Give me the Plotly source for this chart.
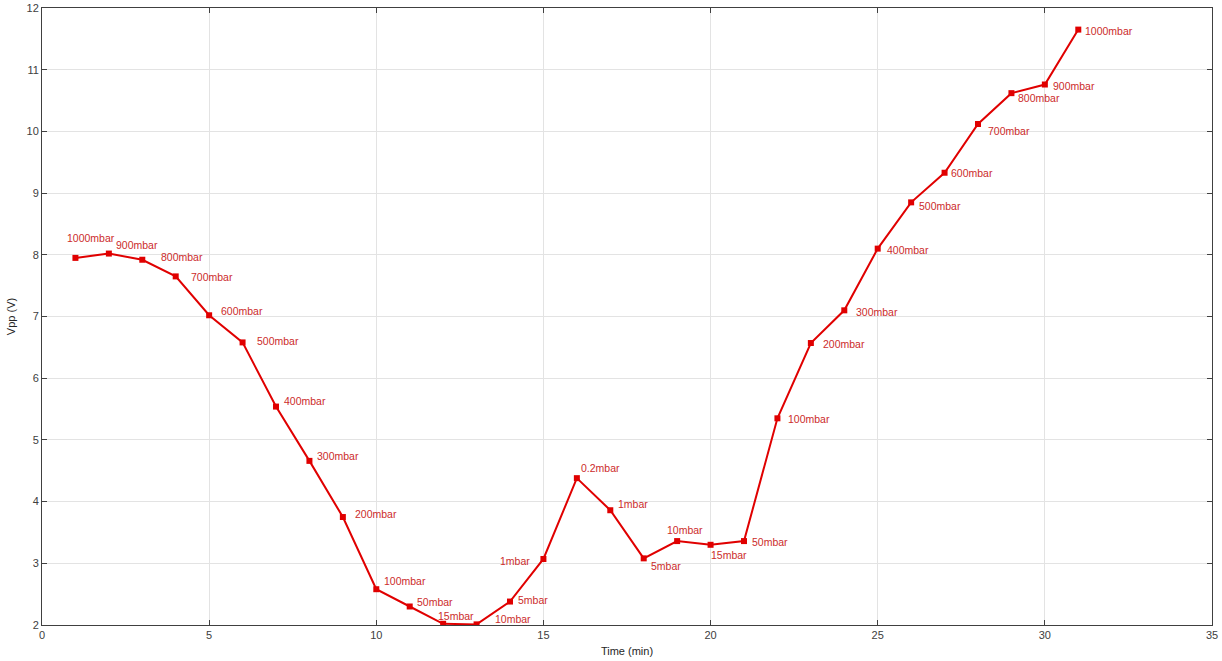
import plotly.graph_objects as go

time_min = list(range(1, 32))
vpp = [7.95, 8.02, 7.92, 7.65, 7.02, 6.58, 5.54, 4.66, 3.75, 2.58, 2.30, 2.02, 2.01,
       2.38, 3.07, 4.38, 3.86, 3.08, 3.36, 3.30, 3.36, 5.35, 6.57, 7.10, 8.10, 8.85,
       9.33, 10.12, 10.62, 10.76, 11.65]
pressure_labels = ["1000mbar", "900mbar", "800mbar", "700mbar", "600mbar", "500mbar",
                   "400mbar", "300mbar", "200mbar", "100mbar", "50mbar", "15mbar",
                   "10mbar", "5mbar", "1mbar", "0.2mbar", "1mbar", "5mbar", "10mbar",
                   "15mbar", "50mbar", "100mbar", "200mbar", "300mbar", "400mbar",
                   "500mbar", "600mbar", "700mbar", "800mbar", "900mbar", "1000mbar"]

# label offsets in pixels (dx, dy, anchor) relative to each point
label_offsets = [(-10, 20, "left"), (5, 9, "left"), (17, 3, "left"), (13, -1, "left"),
                 (10, 4, "left"), (12, 1, "left"), (6, 6, "left"), (6, 5, "left"),
                 (10, 3, "left"), (6, 8, "left"), (5, 4, "left"), (-7, 8, "left"),
                 (16, 5, "left"), (6, 2, "left"), (-11, -2, "right"), (2, 10, "left"),
                 (6, 6, "left"), (5, -8, "left"), (-12, 11, "left"), (-2, -10, "left"),
                 (6, -1, "left"), (9, -1, "left"), (10, -1, "left"), (10, -2, "left"),
                 (7, -1, "left"), (6, -4, "left"), (4, 0, "left"), (8, -7, "left"),
                 (5, -5, "left"), (6, -1, "left"), (5, -1, "left")]

RED = "#e00000"
LABEL_RED = "#cc2b2b"
FONT = "Liberation Sans, Arial, sans-serif"

fig = go.Figure()
fig.add_trace(go.Scatter(
    x=time_min, y=vpp, mode="lines+markers",
    line=dict(color=RED, width=2),
    marker=dict(symbol="square", size=6, color=RED),
    hoverinfo="x+y", showlegend=False,
))

for x, y, txt, (dx, dy, anc) in zip(time_min, vpp, pressure_labels, label_offsets):
    fig.add_annotation(x=x, y=y, xref="x", yref="y", text=txt, showarrow=False,
                       xanchor=anc, yanchor="middle", xshift=dx, yshift=dy,
                       font=dict(family=FONT, size=10.5, color=LABEL_RED))

axis_common = dict(
    showline=True, linecolor="#404040", linewidth=1, mirror="ticks",
    ticks="inside", ticklen=5, tickcolor="#404040",
    showgrid=True, gridcolor="#e3e3e3", gridwidth=1, zeroline=False,
    automargin=False,
    tickfont=dict(family=FONT, size=11, color="#404040"),
)

fig.update_xaxes(range=[0, 35], dtick=5, tick0=0,
                 title=dict(text="Time (min)", standoff=7,
                            font=dict(family=FONT, size=11, color="#262626")),
                 **axis_common)
fig.update_yaxes(range=[2, 12], dtick=1, tick0=2,
                 title=dict(text="Vpp (V)", standoff=8,
                            font=dict(family=FONT, size=11, color="#262626")),
                 **axis_common)

fig.update_layout(
    width=1222, height=661,
    margin=dict(l=42, r=10, t=8, b=36, autoexpand=False),
    paper_bgcolor="white", plot_bgcolor="white",
)

fig.write_html("out.html", config={"displayModeBar": False},
               post_script="document.body.style.margin='0';document.body.style.overflow='hidden';")
